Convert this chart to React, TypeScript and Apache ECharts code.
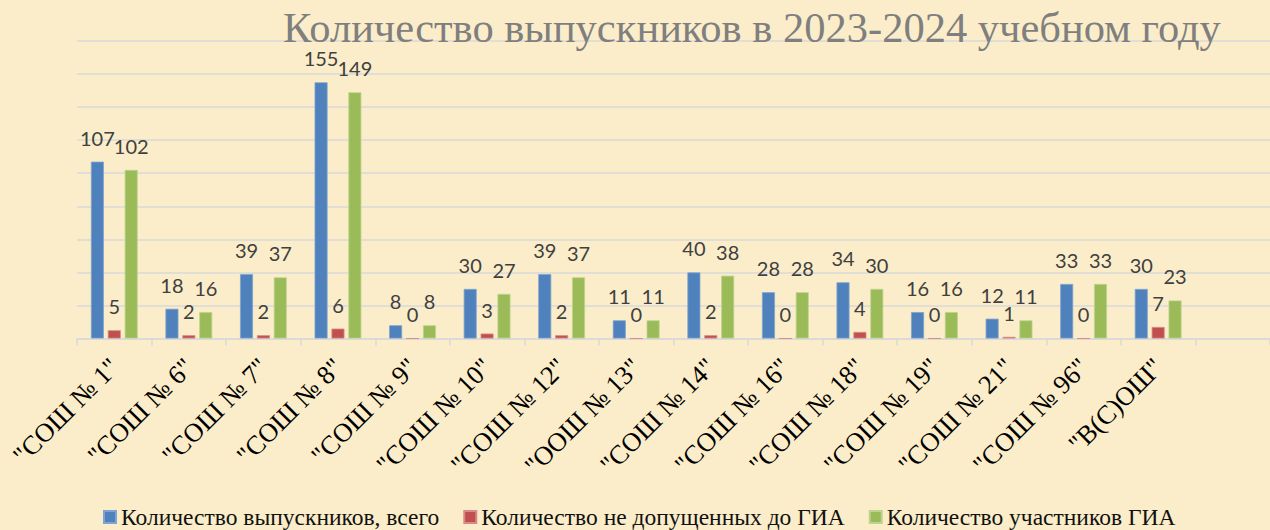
import React, { useEffect, useRef } from "react";
import * as echarts from "echarts";

const categories = [
  '"СОШ № 1"', '"СОШ № 6"', '"СОШ № 7"', '"СОШ № 8"', '"СОШ № 9"',
  '"СОШ № 10"', '"СОШ № 12"', '"ООШ № 13"', '"СОШ № 14"', '"СОШ № 16"',
  '"СОШ № 18"', '"СОШ № 19"', '"СОШ № 21"', '"СОШ № 96"', '"В(С)ОШ"',
];
const totalGraduates = [107, 18, 39, 155, 8, 30, 39, 11, 40, 28, 34, 16, 12, 33, 30];
const notAdmitted = [5, 2, 2, 6, 0, 3, 2, 0, 2, 0, 4, 0, 1, 0, 7];
const participants = [102, 16, 37, 149, 8, 27, 37, 11, 38, 28, 30, 16, 11, 33, 23];

const seriesNames = [
  "Количество выпускников, всего",
  "Количество не допущенных до ГИА",
  "Количество участников ГИА",
];
const colors = ["#4F81BD", "#C0504D", "#9BBB59"];
const borderColors = ["#7FA3D0", "#D98A88", "#BCD48E"];
const SERIF = "'Liberation Serif', 'Times New Roman', serif";

export default function App() {
  const ref = useRef<HTMLDivElement>(null);
  useEffect(() => {
    if (!ref.current) return;
    const chart = echarts.init(ref.current, null, { renderer: "svg" });
    const labelStyle = {
      show: true,
      position: "top",
      distance: 14,
      fontFamily: "Lato",
      fontSize: 20,
      color: "#404040",
    };
    const datasets = [totalGraduates, notAdmitted, participants];
    chart.setOption({
      animation: false,
      backgroundColor: "#FBEDC9",
      title: {
        text: "Количество выпускников в 2023-2024 учебном году",
        left: 278,
        top: 1,
        textStyle: {
          fontFamily: SERIF,
          fontSize: 42.5,
          fontWeight: "normal",
          color: "#7F7F7F",
        },
      },
      legend: {
        left: 98,
        top: 500,
        icon: "rect",
        itemWidth: 12,
        itemHeight: 12,
        itemGap: 24,
        textStyle: {
          fontFamily: SERIF,
          fontSize: 23.5,
          color: "#111",
        },
        data: seriesNames,
      },
      grid: { left: 77, top: 41, width: 1200, height: 297.5 },
      xAxis: {
        type: "category",
        data: [...categories, ""],
        axisLine: { lineStyle: { color: "#D9D9D9", width: 1.5 } },
        axisTick: { show: true, length: 7, lineStyle: { color: "#D9D9D9", width: 1.5 } },
        axisLabel: {
          interval: 0,
          rotate: 45,
          margin: 24,
          fontFamily: SERIF,
          fontSize: 26.5,
          color: "#000",
        },
      },
      yAxis: {
        type: "value",
        min: 0,
        max: 180,
        interval: 20,
        axisLine: { show: false },
        axisTick: { show: false },
        axisLabel: { show: false },
        splitLine: { lineStyle: { color: "#D9D9D9", width: 1.5 } },
      },
      series: datasets.map((d, i) => ({
        name: seriesNames[i],
        type: "bar",
        data: d,
        barWidth: 13,
        barGap: "30%",
        itemStyle: { color: colors[i], borderColor: borderColors[i], borderWidth: 0.8 },
        label: labelStyle,
      })),
    });
    return () => chart.dispose();
  }, []);
  return (
    <div
      ref={ref}
      style={{ position: "absolute", left: 0, top: 0, width: 1270, height: 530 }}
    />
  );
}
